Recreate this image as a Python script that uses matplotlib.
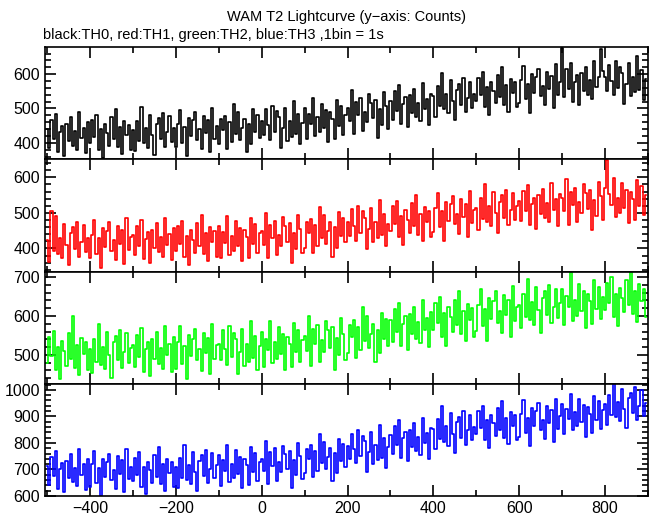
import numpy as np
import matplotlib
matplotlib.use("Agg")
import matplotlib.pyplot as plt
from matplotlib.ticker import MultipleLocator

plt.rcParams['font.family'] = ['Liberation Sans', 'DejaVu Sans']

# time bins (s), 5 s per point
t = np.arange(-500, 900, 5)

# TH0 (black), counts, one row = 100 s
th0 = [
    440, 384, 467, 410, 484, 372, 430, 449, 362, 455, 404, 474, 392, 434, 380, 490, 414, 444, 370, 460,
    398, 467, 416, 482, 380, 440, 357, 455, 429, 392, 475, 410, 497, 387, 446, 368, 464, 422, 453, 380,
    437, 376, 464, 406, 503, 398, 443, 386, 482, 422, 365, 455, 472, 410, 488, 389, 431, 478, 402, 442,
    388, 455, 496, 400, 445, 361, 473, 419, 465, 489, 409, 439, 382, 479, 429, 467, 373, 502, 412, 449,
    395, 468, 437, 479, 383, 461, 402, 512, 425, 490, 407, 444, 470, 372, 455, 395, 497, 431, 482, 413,
    462, 422, 498, 451, 409, 508, 430, 492, 475, 385, 442, 502, 406, 463, 418, 523, 426, 484, 396, 457,
    500, 410, 484, 454, 530, 420, 474, 432, 514, 444, 495, 402, 489, 470, 412, 524, 450, 507, 424, 480,
    501, 464, 554, 425, 519, 481, 531, 434, 491, 461, 541, 517, 471, 525, 413, 497, 452, 548, 507, 440,
    523, 467, 550, 493, 567, 455, 513, 532, 445, 538, 487, 557, 475, 517, 463, 573, 497, 527, 453, 543,
    537, 476, 564, 506, 603, 498, 543, 486, 582, 522, 465, 555, 572, 510, 588, 489, 531, 578, 502, 542,
    521, 590, 539, 605, 503, 563, 480, 578, 552, 515, 598, 533, 620, 510, 569, 491, 587, 545, 576, 503,
    515, 582, 623, 527, 572, 488, 600, 546, 592, 616, 536, 566, 509, 606, 556, 594, 500, 629, 539, 576,
    675, 532, 615, 558, 632, 520, 578, 597, 510, 603, 552, 622, 540, 582, 528, 638, 562, 592, 672, 608,
    591, 551, 627, 580, 538, 637, 559, 621, 604, 514, 571, 631, 535, 592, 547, 652, 555, 613, 525, 586,
]

# TH1 (red)
th1 = [
    424, 363, 505, 393, 490, 385, 430, 373, 469, 409, 352, 442, 459, 397, 475, 376, 418, 465, 389, 429,
    372, 439, 480, 384, 429, 345, 457, 403, 449, 473, 393, 423, 366, 463, 413, 451, 357, 486, 396, 433,
    437, 381, 464, 407, 481, 369, 427, 446, 359, 452, 401, 471, 389, 431, 377, 487, 411, 441, 367, 457,
    394, 463, 412, 478, 376, 436, 353, 451, 425, 388, 471, 406, 493, 383, 442, 364, 460, 418, 449, 376,
    462, 372, 446, 416, 492, 382, 436, 394, 476, 406, 457, 364, 451, 432, 374, 486, 412, 469, 386, 442,
    448, 411, 501, 372, 466, 428, 478, 381, 438, 408, 488, 464, 418, 472, 360, 444, 399, 495, 454, 387,
    400, 473, 442, 484, 388, 466, 407, 517, 430, 495, 412, 449, 475, 377, 460, 400, 502, 436, 487, 418,
    474, 434, 510, 463, 421, 520, 442, 504, 487, 397, 454, 514, 418, 475, 430, 535, 438, 496, 408, 469,
    450, 519, 468, 534, 432, 492, 409, 507, 481, 444, 527, 462, 549, 439, 498, 420, 516, 474, 505, 432,
    447, 514, 555, 459, 504, 420, 532, 478, 524, 548, 468, 498, 441, 538, 488, 526, 432, 561, 471, 508,
    514, 453, 541, 483, 580, 475, 520, 463, 559, 499, 442, 532, 549, 487, 565, 466, 508, 555, 479, 519,
    534, 478, 561, 504, 578, 466, 524, 543, 456, 549, 498, 568, 486, 528, 474, 584, 508, 538, 464, 554,
    541, 504, 594, 465, 559, 521, 571, 474, 531, 501, 581, 557, 511, 565, 453, 537, 492, 588, 547, 480,
    569, 648, 553, 523, 599, 489, 543, 501, 583, 513, 564, 471, 558, 539, 481, 593, 519, 576, 493, 549,
]

# TH2 (green)
th2 = [
    478, 547, 496, 562, 460, 520, 437, 535, 509, 472, 555, 490, 600, 467, 526, 448, 544, 502, 533, 460,
    514, 453, 541, 483, 580, 475, 520, 463, 559, 499, 442, 532, 549, 487, 565, 466, 508, 555, 479, 519,
    525, 469, 552, 495, 569, 457, 515, 534, 447, 540, 489, 559, 477, 519, 465, 575, 499, 529, 455, 545,
    465, 532, 573, 477, 522, 438, 550, 496, 542, 566, 486, 516, 459, 556, 506, 544, 450, 579, 489, 526,
    527, 487, 563, 516, 474, 573, 495, 557, 540, 450, 507, 567, 471, 528, 483, 588, 491, 549, 461, 522,
    558, 468, 542, 512, 588, 478, 532, 490, 572, 502, 553, 460, 547, 528, 470, 582, 508, 565, 482, 538,
    548, 511, 601, 472, 566, 528, 578, 481, 538, 508, 588, 564, 518, 572, 460, 544, 499, 595, 554, 487,
    505, 578, 547, 589, 493, 571, 512, 622, 535, 600, 517, 554, 580, 482, 565, 505, 607, 541, 592, 523,
    590, 534, 617, 560, 634, 522, 580, 599, 512, 605, 554, 624, 542, 584, 530, 640, 564, 594, 520, 610,
    565, 634, 583, 649, 547, 607, 524, 622, 596, 559, 642, 577, 664, 554, 613, 535, 631, 589, 620, 547,
    562, 629, 670, 574, 619, 535, 647, 593, 639, 663, 583, 613, 556, 653, 603, 641, 547, 676, 586, 623,
    629, 568, 656, 598, 695, 590, 635, 578, 674, 614, 557, 647, 664, 602, 680, 581, 623, 670, 594, 634,
    668, 578, 652, 622, 712, 588, 642, 600, 682, 612, 663, 570, 657, 638, 580, 692, 618, 675, 592, 648,
    615, 684, 633, 699, 597, 657, 574, 672, 646, 609, 692, 627, 714, 604, 663, 585, 681, 639, 670, 597,
]

# TH3 (blue)
th3 = [
    713, 642, 747, 675, 768, 627, 700, 724, 614, 732, 667, 757, 652, 705, 637, 776, 680, 719, 623, 738,
    633, 719, 770, 648, 705, 599, 741, 673, 730, 760, 660, 698, 625, 749, 684, 734, 614, 777, 663, 711,
    658, 745, 681, 764, 635, 711, 606, 730, 698, 650, 755, 673, 783, 644, 719, 620, 741, 688, 728, 635,
    709, 631, 744, 669, 793, 660, 717, 645, 766, 690, 618, 732, 753, 675, 774, 649, 702, 761, 666, 715,
    753, 638, 734, 695, 791, 652, 720, 667, 772, 682, 747, 629, 739, 715, 642, 783, 690, 762, 657, 728,
    741, 693, 807, 644, 764, 714, 779, 655, 728, 690, 790, 760, 703, 771, 629, 735, 678, 800, 749, 663,
    685, 778, 738, 791, 670, 769, 694, 833, 723, 805, 700, 748, 780, 656, 761, 685, 814, 731, 795, 708,
    789, 740, 835, 776, 723, 848, 749, 827, 806, 692, 764, 840, 719, 791, 734, 867, 743, 818, 705, 783,
    831, 760, 865, 793, 886, 745, 818, 842, 732, 850, 785, 875, 770, 823, 755, 894, 798, 837, 741, 856,
    854, 776, 889, 814, 938, 805, 862, 790, 911, 835, 763, 877, 898, 820, 919, 794, 847, 906, 811, 860,
    834, 921, 857, 940, 811, 887, 782, 906, 874, 826, 931, 849, 959, 820, 895, 796, 917, 864, 904, 811,
    823, 909, 960, 838, 895, 789, 931, 863, 920, 950, 850, 888, 815, 939, 874, 924, 804, 967, 853, 901,
    948, 833, 929, 890, 986, 847, 915, 862, 967, 877, 942, 824, 934, 910, 837, 978, 885, 957, 852, 923,
    946, 868, 981, 906, 1030, 897, 954, 882, 1003, 927, 855, 969, 990, 912, 1011, 886, 939, 998, 903, 952,
]

series = [th0, th1, th2, th3]
colors = ['#000000', '#ff0000', '#00ff00', '#0000ff']
ylims = [(352, 679), (335, 651), (426, 714), (600, 1023)]
yticks = [[400, 500, 600], [400, 500, 600], [500, 600, 700], [600, 700, 800, 900, 1000]]

fig = plt.figure(figsize=(6.52, 5.15), dpi=100)

left, right = 45 / 652, 648 / 652
top, bottom = 1 - 47 / 515, 1 - 496 / 515
h = (top - bottom) / 4

axes = []
for i in range(4):
    ax = fig.add_axes([left, top - (i + 1) * h, right - left, h])
    ax.plot(t, series[i], color=colors[i], lw=1.2, drawstyle='steps-mid')
    ax.set_xlim(-505, 900)
    ax.set_ylim(*ylims[i])
    ax.set_yticks(yticks[i])
    ax.xaxis.set_major_locator(MultipleLocator(200))
    ax.xaxis.set_minor_locator(MultipleLocator(100))
    ax.yaxis.set_minor_locator(MultipleLocator(20))
    ax.tick_params(which='both', direction='in', top=True, right=True, width=1.2)
    ax.tick_params(which='major', length=8, labelsize=11.5)
    ax.tick_params(which='minor', length=4)
    for sp in ax.spines.values():
        sp.set_linewidth(1.2)
    if i < 3:
        ax.tick_params(labelbottom=False)
    axes.append(ax)

fig.text((left + right) / 2, 1 - 17 / 515, 'WAM T2 Lightcurve (y\u2212axis: Counts)',
         ha='center', va='center', fontsize=10.5)
fig.text(left - 2 / 652, 1 - 35 / 515, 'black:TH0, red:TH1, green:TH2, blue:TH3 ,1bin = 1s',
         ha='left', va='center', fontsize=10.5)

fig.savefig('out.png', dpi=100)
